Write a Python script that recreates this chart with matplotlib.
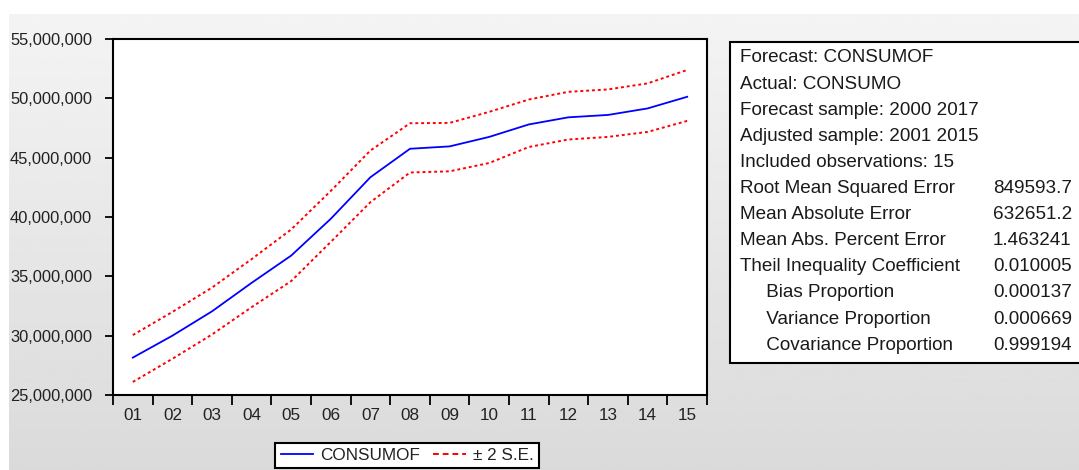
import numpy as np
import matplotlib.pyplot as plt
from matplotlib.lines import Line2D
from matplotlib.patches import Rectangle
from matplotlib.ticker import FuncFormatter, FixedLocator

plt.rcParams["font.family"] = ["Liberation Sans", "DejaVu Sans"]

# forecast and +/- 2 standard error band (millions)
periods = ["01", "02", "03", "04", "05", "06", "07", "08",
           "09", "10", "11", "12", "13", "14", "15"]
consumof = [28.15, 30.0, 32.05, 34.45, 36.75, 39.85, 43.35, 45.75,
            45.95, 46.75, 47.8, 48.4, 48.6, 49.15, 50.13]
upper_se = [30.05, 32.0, 34.05, 36.45, 38.95, 42.2, 45.6, 47.9,
            47.93, 48.86, 49.9, 50.55, 50.75, 51.26, 52.39]
lower_se = [26.1, 28.05, 30.1, 32.4, 34.6, 37.9, 41.25, 43.75,
            43.85, 44.55, 45.9, 46.53, 46.75, 47.17, 48.1]

stat_labels = ["Forecast: CONSUMOF", "Actual: CONSUMO",
               "Forecast sample: 2000 2017", "Adjusted sample: 2001 2015",
               "Included observations: 15",
               "Root Mean Squared Error", "Mean Absolute Error",
               "Mean Abs. Percent Error", "Theil Inequality Coefficient",
               "     Bias Proportion", "     Variance Proportion",
               "     Covariance Proportion"]
stat_values = ["", "", "", "", "",
               "849593.7", "632651.2", "1.463241", "0.010005",
               "0.000137", "0.000669", "0.999194"]

W, H = 1079, 470
fig = plt.figure(figsize=(W / 100, H / 100), dpi=100)


def px(x, y):
    return x / W, 1 - y / H


# grey panel with a soft vertical gradient
bg = fig.add_axes([9 / W, 0, 1 - 9 / W, (H - 14) / H], zorder=-10)
grad = np.linspace(0.955, 0.855, 200)[:, None]
bg.imshow(grad, cmap="gray", vmin=0, vmax=1, aspect="auto",
          extent=[0, 1, 0, 1], origin="upper")
bg.set_axis_off()

ax = fig.add_axes([113 / W, 1 - 395 / H, (707 - 113) / W, (395 - 39) / H])
x = np.arange(1, len(periods) + 1)
scale = 1e6
ax.plot(x, np.array(consumof) * scale, color="#0000ff", lw=1.3)
ax.plot(x, np.array(upper_se) * scale, color="#ff0000", lw=1.4,
        linestyle=(0, (1.5, 1.5)))
ax.plot(x, np.array(lower_se) * scale, color="#ff0000", lw=1.4,
        linestyle=(0, (1.5, 1.5)))

ax.set_xlim(0.5, len(periods) + 0.5)
ax.set_ylim(25e6, 55e6)
ax.set_yticks(np.arange(25e6, 55e6 + 1, 5e6))
ax.yaxis.set_major_formatter(FuncFormatter(lambda v, p: f"{v:,.0f}"))
ax.set_xticks(x)
ax.set_xticklabels(periods)
ax.xaxis.set_minor_locator(FixedLocator(np.arange(0.5, len(periods) + 1, 1)))
ax.tick_params(axis="x", which="major", length=0, pad=9, labelsize=12.3)
ax.tick_params(axis="x", which="minor", length=7, width=1.3, direction="out")
ax.tick_params(axis="y", length=6, width=1.3, direction="out", pad=9,
               labelsize=11.9)
ax.tick_params(colors="black", which="both", labelcolor="#222222")
for s in ax.spines.values():
    s.set_linewidth(1.5)
    s.set_color("black")

handles = [Line2D([], [], color="#0000ff", lw=1.3),
           Line2D([], [], color="#ff0000", lw=1.4, linestyle=(0, (3, 2)))]
leg = fig.legend(handles, ["CONSUMOF", "± 2 S.E."], ncol=2,
                 loc="center", bbox_to_anchor=px(407, 455.5),
                 fancybox=False, framealpha=1, edgecolor="black",
                 fontsize=12.3, handlelength=1.9, handletextpad=0.4,
                 columnspacing=0.8, borderpad=0.3, borderaxespad=0)
leg.get_frame().set_linewidth(1.5)
for t in leg.get_texts():
    t.set_color("#222222")

# statistics box, running off the right edge
x0, y0 = px(730, 363)
fig.patches.append(Rectangle((x0, y0), 1.05 - x0, (363 - 42) / H,
                             transform=fig.transFigure, facecolor="white",
                             edgecolor="black", lw=1.5, zorder=1))
for i, (lab, val) in enumerate(zip(stat_labels, stat_values)):
    ty = 58 + i * 26.1
    fig.text(*px(740, ty), lab, fontsize=13.6, va="center", ha="left",
             color="#1a1a1a", zorder=2)
    if val:
        fig.text(*px(993, ty), val, fontsize=13.6, va="center", ha="left",
                 color="#1a1a1a", zorder=2)

fig.savefig("out.png", dpi=100)
